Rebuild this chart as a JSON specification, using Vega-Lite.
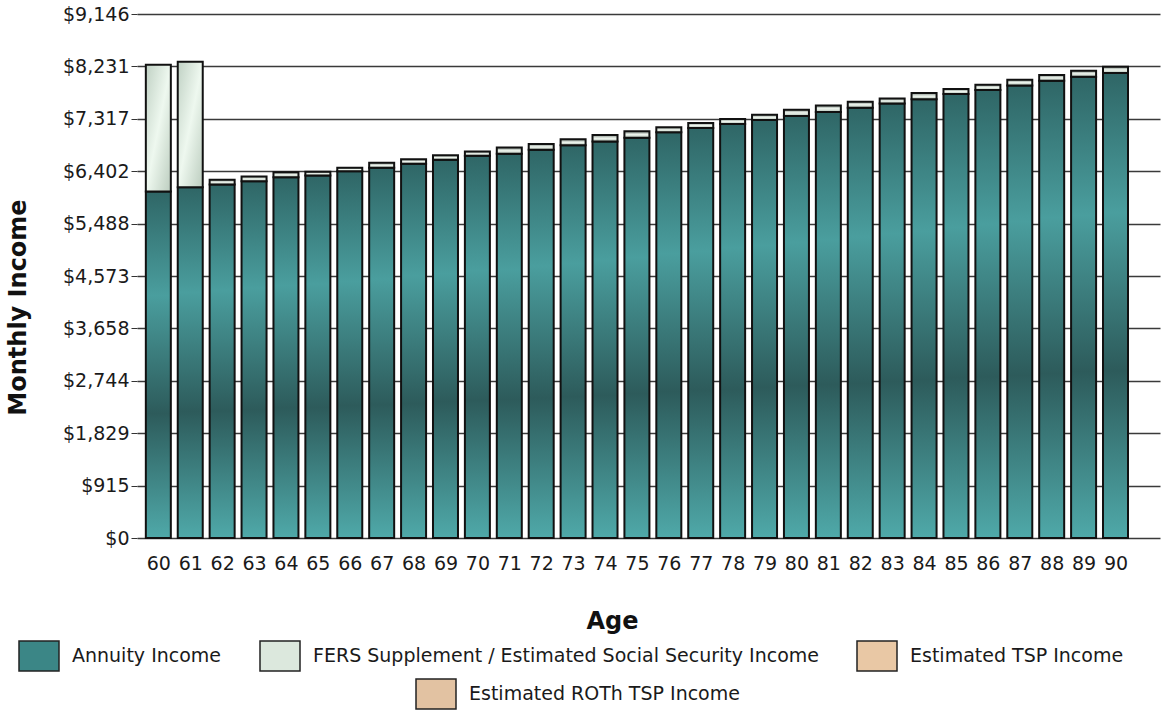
{
  "$schema": "https://vega.github.io/schema/vega-lite/v6.json",
  "width": 1023,
  "height": 524,
  "autosize": {"type": "none"},
  "padding": {"left": 137, "top": 14, "right": 4, "bottom": 173},
  "config": {
    "view": {"stroke": null},
    "font": "DejaVu Sans",
    "legend": {
      "labelFontSize": 19,
      "labelColor": "#1a1a1a",
      "labelFont": "DejaVu Sans",
      "labelLimit": 1000,
      "symbolType": "M-1,-0.75H1V0.75H-1Z",
      "symbolSize": 1600,
      "symbolStrokeColor": "#222222",
      "symbolStrokeWidth": 1.5,
      "labelOffset": 12,
      "columnPadding": 35,
      "padding": 0,
      "title": null
    }
  },
  "datasets": {
    "income": [
      {"age": 60, "series": "Annuity Income", "ord": 0, "value": 6048},
      {"age": 60, "series": "FERS Supplement / Estimated Social Security Income", "ord": 1, "value": 2212},
      {"age": 61, "series": "Annuity Income", "ord": 0, "value": 6123},
      {"age": 61, "series": "FERS Supplement / Estimated Social Security Income", "ord": 1, "value": 2189},
      {"age": 62, "series": "Annuity Income", "ord": 0, "value": 6170},
      {"age": 62, "series": "FERS Supplement / Estimated Social Security Income", "ord": 1, "value": 82},
      {"age": 63, "series": "Annuity Income", "ord": 0, "value": 6228},
      {"age": 63, "series": "FERS Supplement / Estimated Social Security Income", "ord": 1, "value": 82},
      {"age": 64, "series": "Annuity Income", "ord": 0, "value": 6298},
      {"age": 64, "series": "FERS Supplement / Estimated Social Security Income", "ord": 1, "value": 86},
      {"age": 65, "series": "Annuity Income", "ord": 0, "value": 6327},
      {"age": 65, "series": "FERS Supplement / Estimated Social Security Income", "ord": 1, "value": 64},
      {"age": 66, "series": "Annuity Income", "ord": 0, "value": 6402},
      {"age": 66, "series": "FERS Supplement / Estimated Social Security Income", "ord": 1, "value": 60},
      {"age": 67, "series": "Annuity Income", "ord": 0, "value": 6461},
      {"age": 67, "series": "FERS Supplement / Estimated Social Security Income", "ord": 1, "value": 87},
      {"age": 68, "series": "Annuity Income", "ord": 0, "value": 6531},
      {"age": 68, "series": "FERS Supplement / Estimated Social Security Income", "ord": 1, "value": 80},
      {"age": 69, "series": "Annuity Income", "ord": 0, "value": 6600},
      {"age": 69, "series": "FERS Supplement / Estimated Social Security Income", "ord": 1, "value": 81},
      {"age": 70, "series": "Annuity Income", "ord": 0, "value": 6670},
      {"age": 70, "series": "FERS Supplement / Estimated Social Security Income", "ord": 1, "value": 75},
      {"age": 71, "series": "Annuity Income", "ord": 0, "value": 6705},
      {"age": 71, "series": "FERS Supplement / Estimated Social Security Income", "ord": 1, "value": 110},
      {"age": 72, "series": "Annuity Income", "ord": 0, "value": 6775},
      {"age": 72, "series": "FERS Supplement / Estimated Social Security Income", "ord": 1, "value": 104},
      {"age": 73, "series": "Annuity Income", "ord": 0, "value": 6855},
      {"age": 73, "series": "FERS Supplement / Estimated Social Security Income", "ord": 1, "value": 104},
      {"age": 74, "series": "Annuity Income", "ord": 0, "value": 6919},
      {"age": 74, "series": "FERS Supplement / Estimated Social Security Income", "ord": 1, "value": 117},
      {"age": 75, "series": "Annuity Income", "ord": 0, "value": 6984},
      {"age": 75, "series": "FERS Supplement / Estimated Social Security Income", "ord": 1, "value": 115},
      {"age": 76, "series": "Annuity Income", "ord": 0, "value": 7081},
      {"age": 76, "series": "FERS Supplement / Estimated Social Security Income", "ord": 1, "value": 87},
      {"age": 77, "series": "Annuity Income", "ord": 0, "value": 7158},
      {"age": 77, "series": "FERS Supplement / Estimated Social Security Income", "ord": 1, "value": 87},
      {"age": 78, "series": "Annuity Income", "ord": 0, "value": 7227},
      {"age": 78, "series": "FERS Supplement / Estimated Social Security Income", "ord": 1, "value": 87},
      {"age": 79, "series": "Annuity Income", "ord": 0, "value": 7297},
      {"age": 79, "series": "FERS Supplement / Estimated Social Security Income", "ord": 1, "value": 92},
      {"age": 80, "series": "Annuity Income", "ord": 0, "value": 7367},
      {"age": 80, "series": "FERS Supplement / Estimated Social Security Income", "ord": 1, "value": 109},
      {"age": 81, "series": "Annuity Income", "ord": 0, "value": 7436},
      {"age": 81, "series": "FERS Supplement / Estimated Social Security Income", "ord": 1, "value": 115},
      {"age": 82, "series": "Annuity Income", "ord": 0, "value": 7511},
      {"age": 82, "series": "FERS Supplement / Estimated Social Security Income", "ord": 1, "value": 105},
      {"age": 83, "series": "Annuity Income", "ord": 0, "value": 7586},
      {"age": 83, "series": "FERS Supplement / Estimated Social Security Income", "ord": 1, "value": 87},
      {"age": 84, "series": "Annuity Income", "ord": 0, "value": 7656},
      {"age": 84, "series": "FERS Supplement / Estimated Social Security Income", "ord": 1, "value": 111},
      {"age": 85, "series": "Annuity Income", "ord": 0, "value": 7750},
      {"age": 85, "series": "FERS Supplement / Estimated Social Security Income", "ord": 1, "value": 87},
      {"age": 86, "series": "Annuity Income", "ord": 0, "value": 7820},
      {"age": 86, "series": "FERS Supplement / Estimated Social Security Income", "ord": 1, "value": 92},
      {"age": 87, "series": "Annuity Income", "ord": 0, "value": 7900},
      {"age": 87, "series": "FERS Supplement / Estimated Social Security Income", "ord": 1, "value": 99},
      {"age": 88, "series": "Annuity Income", "ord": 0, "value": 7982},
      {"age": 88, "series": "FERS Supplement / Estimated Social Security Income", "ord": 1, "value": 99},
      {"age": 89, "series": "Annuity Income", "ord": 0, "value": 8051},
      {"age": 89, "series": "FERS Supplement / Estimated Social Security Income", "ord": 1, "value": 105},
      {"age": 90, "series": "Annuity Income", "ord": 0, "value": 8116},
      {"age": 90, "series": "FERS Supplement / Estimated Social Security Income", "ord": 1, "value": 109}
    ],
    "roth": [
      {"age": 90, "series": "Estimated ROTh TSP Income", "ord": 3, "value": 0}
    ]
  },
  "encoding": {
    "x": {
      "field": "age",
      "type": "quantitative",
      "scale": {"domain": [59.488, 91.238], "nice": false, "zero": false},
      "axis": {
        "title": "Age",
        "values": [60, 61, 62, 63, 64, 65, 66, 67, 68, 69, 70, 71, 72, 73, 74, 75, 76, 77, 78, 79, 80, 81, 82, 83, 84, 85, 86, 87, 88, 89, 90],
        "format": "d",
        "labelAngle": 0,
        "labelFlush": false,
        "labelOverlap": false,
        "ticks": false,
        "domain": false,
        "grid": false,
        "labelPadding": 16,
        "labelFontSize": 19,
        "labelColor": "#1a1a1a",
        "titleFontSize": 24,
        "titleFontWeight": "bold",
        "titleColor": "#111111",
        "titleX": 475,
        "titleY": 83,
        "titleBaseline": "middle"
      }
    },
    "y": {
      "field": "value",
      "type": "quantitative",
      "stack": "zero",
      "scale": {"domain": [0, 9146], "nice": false, "zero": true},
      "axis": {
        "title": "Monthly Income",
        "values": [0, 914.6, 1829.2, 2743.8, 3658.4, 4573, 5487.6, 6402.2, 7316.8, 8231.4, 9146],
        "format": "$,.0f",
        "domain": false,
        "ticks": true,
        "tickSize": 6,
        "tickColor": "#333333",
        "labelPadding": 2,
        "labelFontSize": 19,
        "labelColor": "#1a1a1a",
        "grid": true,
        "gridColor": "#3a3a3a",
        "gridWidth": 1.6,
        "titleFontSize": 24,
        "titleFontWeight": "bold",
        "titleColor": "#111111",
        "titleX": -119,
        "titleY": 293,
        "titleAngle": -90,
        "titleBaseline": "middle",
        "titleAlign": "center"
      }
    },
    "order": {"field": "ord", "type": "quantitative", "sort": "ascending"}
  },
  "layer": [
    {
      "data": {"name": "income"},
      "mark": {"type": "bar", "width": 25},
      "encoding": {
        "color": {
          "field": "series",
          "type": "nominal",
          "scale": {
            "domain": ["Annuity Income", "FERS Supplement / Estimated Social Security Income", "Estimated TSP Income"],
            "range": ["#3b8686", "#dce8dd", "#e9c8a5"]
          },
          "legend": {
            "orient": "none",
            "direction": "horizontal",
            "legendX": -119,
            "legendY": 621,
            "title": null,
            "encode": {
              "symbols": {
                "update": {
                  "stroke": {"value": "#222222"},
                  "strokeWidth": {"value": 1.5}
                }
              }
            }
          }
        }
      }
    },
    {
      "data": {"name": "income"},
      "mark": {"type": "bar", "width": 25, "stroke": "#111111", "strokeWidth": 2},
      "encoding": {
        "detail": {"field": "series", "type": "nominal"},
        "fill": {
          "condition": [
            {
              "test": "datum.series !== 'Annuity Income' && datum.value > 500",
              "value": {
                "gradient": "linear", "x1": 0, "y1": 0, "x2": 1, "y2": 1,
                "stops": [
                  {"offset": 0, "color": "#c0d1c4"},
                  {"offset": 0.5, "color": "#eef8ef"},
                  {"offset": 1, "color": "#bccdbf"}
                ]
              }
            },
            {
              "test": "datum.series !== 'Annuity Income'",
              "value": {
                "gradient": "linear", "x1": 0, "y1": 0, "x2": 0, "y2": 1,
                "stops": [
                  {"offset": 0, "color": "#7f8a83"},
                  {"offset": 0.5, "color": "#eef5ee"},
                  {"offset": 1, "color": "#b0beb3"}
                ]
              }
            }
          ],
          "value": {
            "gradient": "linear", "x1": 0, "y1": 0, "x2": 0, "y2": 1,
            "stops": [
              {"offset": 0, "color": "#2f6666"},
              {"offset": 0.3, "color": "#4a9e9e"},
              {"offset": 0.64, "color": "#2d5b5b"},
              {"offset": 1, "color": "#4fa9a9"}
            ]
          }
        }
      }
    },
    {
      "data": {"name": "roth"},
      "mark": {"type": "bar", "width": 25, "strokeWidth": 0},
      "encoding": {
        "fill": {
          "field": "series",
          "type": "nominal",
          "scale": {"domain": ["Estimated ROTh TSP Income"], "range": ["#e2c2a2"]},
          "legend": {
            "orient": "none",
            "direction": "horizontal",
            "legendX": 278,
            "legendY": 659,
            "title": null,
            "encode": {
              "symbols": {
                "update": {
                  "stroke": {"value": "#222222"},
                  "strokeWidth": {"value": 1.5}
                }
              }
            }
          }
        }
      }
    }
  ]
}
